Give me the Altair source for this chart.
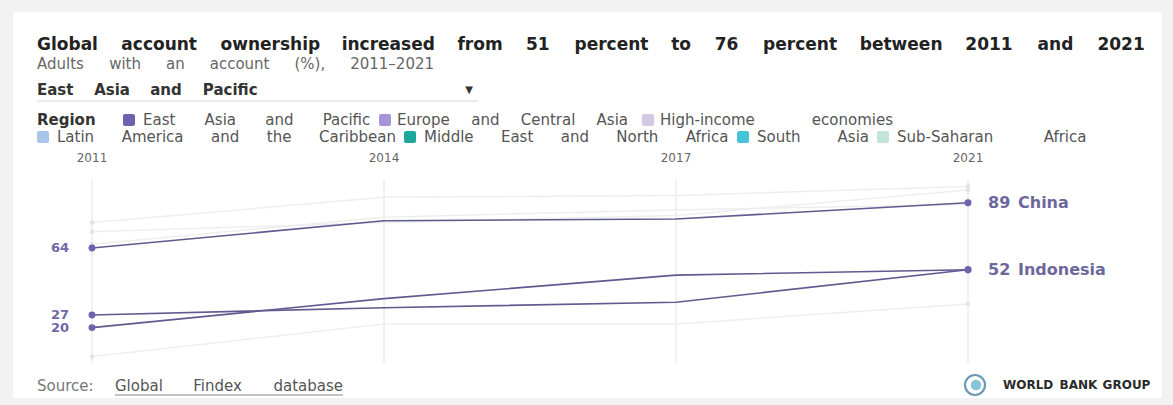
import altair as alt
import pandas as pd

# ---------------- data ----------------
years = ["2011", "2014", "2017", "2021"]
china = [64, 79, 80, 89]
indonesia = [20, 36, 49, 52]
philippines = [27, 31, 34, 52]
mongolia = [78, 92, 93, 98]
thailand = [73, 78, 82, 96]
malaysia = [66, 81, 85, 88]
cambodia = [4, 22, 22, 33]

highlight = {"China": china, "Indonesia": indonesia, "Philippines": philippines}
faint = {"Mongolia": mongolia, "Thailand": thailand, "Malaysia": malaysia, "Cambodia": cambodia}
labelled = ["China", "Indonesia"]

legend_title = "Region"
legend_regions = ["East Asia and Pacific", "Europe and Central Asia", "High-income economies",
                  "Latin America and the Caribbean", "Middle East and North Africa",
                  "South Asia", "Sub-Saharan Africa"]
legend_colors = ["#6d63ad", "#a595d8", "#d3c8e3", "#a9c6e8", "#1ea89c", "#45c3d8", "#c2e5da"]

title_text = "Global account ownership increased from 51 percent to 76 percent between 2011 and 2021"
subtitle_text = "Adults with an account (%), 2011\u20132021"
dropdown_text = "East Asia and Pacific"
source_prefix = "Source:"
source_link = "Global Findex database"
logo_text = "WORLD BANK GROUP"

rows = []
for name, vals in highlight.items():
    for y, v in zip(years, vals):
        rows.append({"country": name, "year": y, "value": v, "kind": "highlight"})
for name, vals in faint.items():
    for y, v in zip(years, vals):
        rows.append({"country": name, "year": y, "value": v, "kind": "faint"})
df = pd.DataFrame(rows)
df_hi = df[df.kind == "highlight"]
df_fa = df[df.kind == "faint"]

FONT = "DejaVu Sans"

# approximate DejaVu Sans advance widths (em)
W = {" ": .318, "a": .613, "b": .635, "c": .55, "d": .635, "e": .615, "f": .352, "g": .635, "h": .634,
     "i": .278, "j": .278, "k": .579, "l": .278, "m": .974, "n": .634, "o": .612, "p": .635, "q": .635,
     "r": .411, "s": .521, "t": .392, "u": .634, "v": .592, "w": .818, "x": .592, "y": .592, "z": .525,
     "A": .684, "B": .686, "C": .698, "D": .77, "E": .632, "F": .575, "G": .775, "H": .752, "I": .295,
     "J": .295, "K": .656, "L": .557, "M": .863, "N": .748, "O": .787, "P": .603, "Q": .787, "R": .695,
     "S": .635, "T": .611, "U": .732, "V": .684, "W": .989, "X": .685, "Y": .611, "Z": .685,
     "(": .39, ")": .39, "%": .95, ",": .318, "-": .361, "\u2013": .5, ":": .337, ".": .318}


def tw(s, size, bold=False):
    em = sum(W.get(c, .636 if c.isdigit() else .6) for c in s)
    return em * size * (1.1 if bold else 1.0)


def mtext(word, x, y, size, color, weight):
    return (alt.Chart().mark_text(align="left", baseline="middle", font=FONT, fontSize=size,
                                  fontWeight=weight, color=color)
            .encode(x=alt.value(x), y=alt.value(y), text=alt.value(word)))


def swatch(x, y, color):
    return alt.Chart().mark_rect(color=color, cornerRadius=2).encode(
        x=alt.value(x), x2=alt.value(x + 12), y=alt.value(y - 6), y2=alt.value(y + 6))


def justified(text, x0, x1, y, size, color, weight="normal"):
    """Lay the words of one text line between x0 and x1, sharing spare room evenly between words."""
    words = text.split(" ")
    bold = weight == "bold"
    widths = [tw(w, size, bold) for w in words]
    n_gaps = len(words) - 1
    gap = max(size * .318, (x1 - x0 - sum(widths)) / n_gaps) if n_gaps else 0
    out, x = [], x0
    for w, wd in zip(words, widths):
        out.append(mtext(w, x, y, size, color, weight))
        x += wd + gap
    return out


# ---------------- scales ----------------
x_enc = alt.X("year:O", scale=alt.Scale(type="point", domain=years, range=[92, 968], padding=0), axis=None)
y_enc = alt.Y("value:Q", scale=alt.Scale(domain=[0, 100], range=[363.8, 182.8]), axis=None)

layers = []

# card background
layers.append(alt.Chart().mark_rect(color="white").encode(
    x=alt.value(13), x2=alt.value(1162), y=alt.value(12), y2=alt.value(398)))

# header texts
layers += justified(title_text, 37, 1145, 45, 17, "#222222", "bold")
layers += justified(subtitle_text, 37, 434, 64, 15, "#666666")
layers += justified(dropdown_text, 37, 256, 90, 15, "#333333", "bold")
layers.append(alt.Chart().mark_text(align="center", baseline="middle", font=FONT, fontSize=10, color="#333333")
              .encode(x=alt.value(469), y=alt.value(90), text=alt.value("\u25bc")))
layers.append(alt.Chart().mark_rule(color="#d6d6d6", strokeWidth=1).encode(
    x=alt.value(37), x2=alt.value(478), y=alt.value(101)))

# legend (two rows): swatch x, text start, text end, row y
layers += justified(legend_title, 37, 100, 120, 15, "#333333", "bold")
leg_pos = [
    (123, 143, 371, 120), (379, 397, 628, 120), (642, 660, 893, 120),
    (37, 57, 396, 137), (404, 424, 729, 137), (737, 757, 869, 137), (877, 897, 1087, 137),
]
for (sx, tx0, tx1, ly), name, col in zip(leg_pos, legend_regions, legend_colors):
    layers.append(swatch(sx, ly, col))
    layers += justified(name, tx0, tx1, ly, 15, "#555555")

# grid rules at years
grid_df = pd.DataFrame({"year": years})
layers.append(alt.Chart(grid_df).mark_rule(color="#e2e2e2", strokeWidth=1).encode(
    x=x_enc, y=alt.value(180), y2=alt.value(363)))
layers.append(alt.Chart(grid_df).mark_text(baseline="middle", font=FONT, fontSize=12, color="#666666").encode(
    x=x_enc, y=alt.value(158), text="year:N"))

# faint lines
layers.append(alt.Chart(df_fa).mark_line(color="#eeeeee", strokeWidth=1.5).encode(
    x=x_enc, y=y_enc, detail="country:N"))
layers.append(alt.Chart(df_fa).transform_filter("datum.year == '2011' || datum.year == '2021'")
              .mark_circle(color="#e4e4e4", size=22, opacity=1).encode(x=x_enc, y=y_enc))

# highlighted lines
layers.append(alt.Chart(df_hi).mark_line(color="#5f5b8f", strokeWidth=1.6).encode(
    x=x_enc, y=y_enc, detail="country:N"))
layers.append(alt.Chart(df_hi).transform_filter("datum.year == '2011' || datum.year == '2021'")
              .mark_circle(color="#6d63ad", size=48, opacity=1).encode(x=x_enc, y=y_enc))
layers.append(alt.Chart(df_hi).transform_filter("datum.year == '2011'")
              .mark_text(align="right", baseline="middle", dx=-23, font=FONT, fontSize=13,
                         fontWeight="bold", color="#6f67a8")
              .encode(x=x_enc, y=y_enc, text="value:Q"))
end_df = alt.Chart(df_hi).transform_filter("datum.year == '2021'").transform_filter(
    alt.FieldOneOfPredicate(field="country", oneOf=labelled))
layers.append(end_df.mark_text(align="left", baseline="middle", dx=20, font=FONT, fontSize=16,
                               fontWeight="bold", color="#6c689c")
              .encode(x=x_enc, y=y_enc, text="value:Q"))
layers.append(end_df.mark_text(align="left", baseline="middle", dx=50, font=FONT, fontSize=16,
                               fontWeight="bold", color="#6c689c")
              .encode(x=x_enc, y=y_enc, text="country:N"))

# source
layers += justified(source_prefix, 37, 108, 386, 15, "#777777")
layers += justified(source_link, 115, 343, 386, 15, "#555555")
layers.append(alt.Chart().mark_rule(color="#888888", strokeWidth=1).encode(
    x=alt.value(115), x2=alt.value(343), y=alt.value(395)))

# logo
layers.append(alt.Chart().mark_point(shape="circle", size=400, filled=False, color="#2f6f9c", strokeWidth=2.2)
              .encode(x=alt.value(975), y=alt.value(385)))
layers.append(alt.Chart().mark_point(shape="circle", size=110, filled=True, color="#53a9c9", opacity=0.7)
              .encode(x=alt.value(976), y=alt.value(385)))
layers += justified(logo_text, 1003, 1150, 385, 12, "#2b2b2b", "bold")

chart = alt.layer(*layers).properties(
    width=1173, height=405, autosize="none", padding=0, background="#f2f2f2"
).configure_view(stroke=None)

chart.save("out.html", embed_options={"renderer": "svg", "actions": False})
